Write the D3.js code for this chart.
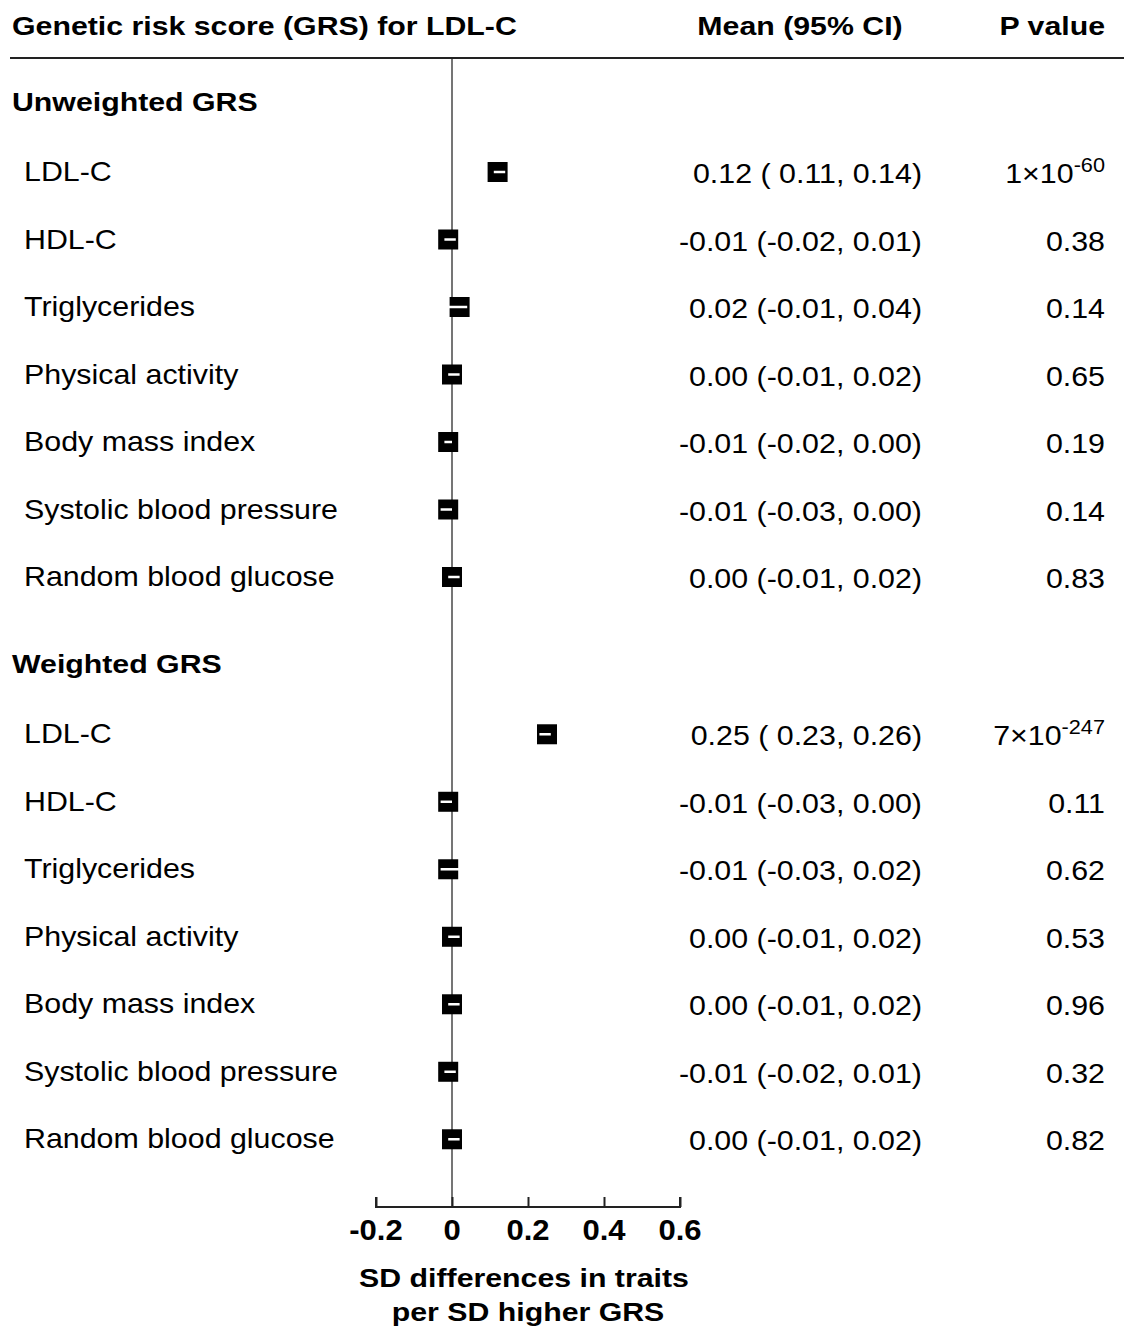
<!DOCTYPE html>
<html>
<head>
<meta charset="utf-8">
<script src="https://cdn.jsdelivr.net/npm/d3@7"></script>
<style>
  html, body { margin: 0; padding: 0; background: #fff; }
  svg { display: block; }
  text { font-family: "Liberation Sans", Arial, sans-serif; fill: #000; white-space: pre; }
</style>
</head>
<body>
<div id="chart"></div>
<script>
// Forest plot: SD differences in traits per SD higher genetic risk score for LDL-C
const groups = ["Unweighted GRS", "Weighted GRS"];
const traits = ["LDL-C", "HDL-C", "Triglycerides", "Physical activity",
                "Body mass index", "Systolic blood pressure", "Random blood glucose"];

const unweightedMean  = [0.12, -0.01, 0.02, 0.00, -0.01, -0.01, 0.00];
const unweightedLower = [0.11, -0.02, -0.01, -0.01, -0.02, -0.03, -0.01];
const unweightedUpper = [0.14, 0.01, 0.04, 0.02, 0.00, 0.00, 0.02];
const unweightedP     = ["1×10^-60", "0.38", "0.14", "0.65", "0.19", "0.14", "0.83"];

const weightedMean  = [0.25, -0.01, -0.01, 0.00, 0.00, -0.01, 0.00];
const weightedLower = [0.23, -0.03, -0.03, -0.01, -0.01, -0.02, -0.01];
const weightedUpper = [0.26, 0.00, 0.02, 0.02, 0.02, 0.01, 0.02];
const weightedP     = ["7×10^-247", "0.11", "0.62", "0.53", "0.96", "0.32", "0.82"];

const xTicks = [-0.2, 0, 0.2, 0.4, 0.6];

const W = 1124, H = 1330;
const svg = d3.select("#chart").append("svg").attr("width", W).attr("height", H);

const x = d3.scaleLinear().domain([-0.2, 0.6]).range([376, 680]);
// vertical slot scale: each row is one slot
const y = d3.scaleLinear().domain([0, 1]).range([104.5, 172]);
const groupSpan = 8.33;

// text styles: size, weight and a horizontal stretch for the wide typeface look
const REG  = { size: 28, weight: "normal", sx: 1.085 };
const BOLD = { size: 26, weight: "bold",   sx: 1.165 };
const TICK = { size: 29, weight: "bold",   sx: 1.07 };

function label(parent, px, py, str, style, anchor = "start", dy = "0.36em") {
  return parent.append("text")
    .attr("transform", `translate(${px},${py}) scale(${style.sx},1)`)
    .attr("dy", dy)
    .attr("text-anchor", anchor)
    .attr("font-size", style.size)
    .attr("font-weight", style.weight)
    .text(str);
}

const series = [
  { mean: unweightedMean, lo: unweightedLower, hi: unweightedUpper, p: unweightedP },
  { mean: weightedMean,   lo: weightedLower,   hi: weightedUpper,   p: weightedP }
];

const rows = [];
series.forEach((s, g) => {
  traits.forEach((t, i) => {
    rows.push({ trait: t, mean: s.mean[i], lo: s.lo[i], hi: s.hi[i], p: s.p[i],
                slot: g * groupSpan + 1 + i });
  });
});

const num = v => (v < 0 ? "-" : "") + Math.abs(v).toFixed(2);
const padNum = v => (v < 0 ? "" : " ") + num(v);

// header
label(svg, 12, 26, "Genetic risk score (GRS) for LDL-C", BOLD);
label(svg, 800, 26, "Mean (95% CI)", BOLD, "middle");
label(svg, 1105, 26, "P value", BOLD, "end");
svg.append("line").attr("x1", 10).attr("x2", W).attr("y1", 58).attr("y2", 58)
  .attr("stroke", "#222").attr("stroke-width", 2);

// zero reference line
const axisY = 1207;
svg.append("line").attr("x1", x(0)).attr("x2", x(0)).attr("y1", 59).attr("y2", axisY)
  .attr("stroke", "#666").attr("stroke-width", 1.8);

// group headers
groups.forEach((gName, g) => {
  label(svg, 12, y(g * groupSpan - 0.04), gName, BOLD);
});

// rows
const r = svg.append("g").selectAll("g").data(rows).join("g")
  .attr("transform", d => `translate(0,${y(d.slot)})`);

r.each(function(d) {
  const row = d3.select(this);
  label(row, 24, -1, d.trait, REG);

  row.append("rect")
    .attr("x", x(d.mean) - 10).attr("y", -10)
    .attr("width", 20).attr("height", 20).attr("fill", "#000");
  row.append("line")
    .attr("x1", x(d.lo)).attr("x2", x(d.hi))
    .attr("y1", 0).attr("y2", 0)
    .attr("stroke", "#fff").attr("stroke-width", 2.5);

  label(row, 922, 1, `${num(d.mean)} (${padNum(d.lo)}, ${num(d.hi)})`, REG, "end");

  if (d.p.includes("^")) {
    const [base, exp] = d.p.split("^");
    const t = label(row, 1105, 1, "", REG, "end");
    t.append("tspan").text(base);
    t.append("tspan").attr("font-size", 20).attr("dy", "-0.55em").text(exp);
  } else {
    label(row, 1105, 1, d.p, REG, "end");
  }
});

// x axis
const axis = svg.append("g").attr("transform", `translate(0,${axisY})`)
  .call(d3.axisTop(x).tickValues(xTicks).tickSize(10).tickFormat(() => ""));
axis.select(".domain").attr("stroke", "#222").attr("stroke-width", 2)
  .attr("d", `M${x(-0.2)},-10V0H${x(0.6)}V-10`);
axis.selectAll(".tick line").attr("stroke", "#222").attr("stroke-width", 2);

xTicks.forEach(v => label(svg, x(v), 1240, v === 0 ? "0" : String(v), TICK, "middle", "0"));

label(svg, 524, 1278, "SD differences in traits", BOLD, "middle");
label(svg, 528, 1312, "per SD higher GRS", BOLD, "middle");
</script>
</body>
</html>
